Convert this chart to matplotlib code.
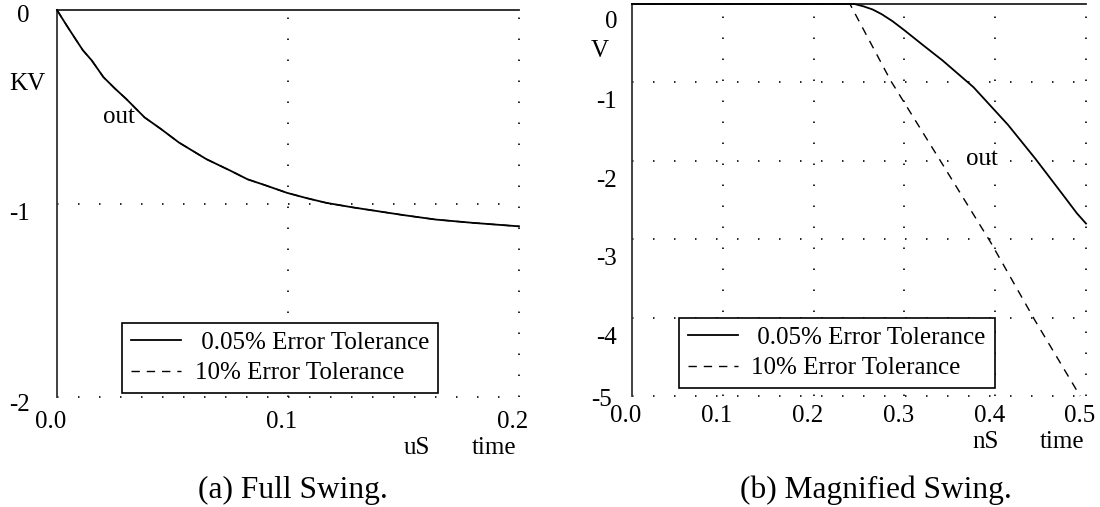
import matplotlib
matplotlib.use('Agg')
import matplotlib.pyplot as plt
import matplotlib.transforms as mtransforms

plt.rcParams['font.family'] = ['Liberation Serif', 'DejaVu Serif']
plt.rcParams['font.size'] = 18

# (a) full swing: time in uS, out in KV
time_a = [0.0, 0.0025, 0.005, 0.008, 0.0112, 0.015, 0.0201, 0.025, 0.03, 0.0379,
          0.045, 0.0528, 0.0647, 0.075, 0.0825, 0.09, 0.0996, 0.108, 0.1167, 0.128,
          0.139, 0.15, 0.164, 0.18, 0.2]
out_a = [0.0, -0.048, -0.095, -0.15, -0.208, -0.26, -0.347, -0.405, -0.46, -0.555,
         -0.615, -0.685, -0.771, -0.83, -0.875, -0.905, -0.945, -0.972, -0.997, -1.02,
         -1.04, -1.06, -1.083, -1.1, -1.118]

# (b) magnified swing: time in nS, out in V
time_b_fine = [0.0, 0.245, 0.255, 0.265, 0.275, 0.287, 0.3, 0.32, 0.342, 0.376,
               0.414, 0.444, 0.475, 0.49, 0.5]
out_b_fine = [0.0, 0.0, -0.03, -0.07, -0.13, -0.22, -0.335, -0.52, -0.72, -1.06,
              -1.54, -1.97, -2.44, -2.67, -2.8]
time_b_coarse = [0.0, 0.24, 0.285, 0.338, 0.395, 0.444, 0.4935]
out_b_coarse = [0.0, 0.0, -0.98, -1.97, -3.04, -4.04, -5.0]

xticks_a = [0.0, 0.1, 0.2]
yticks_a = [0, -1, -2]
xticks_b = [0.0, 0.1, 0.2, 0.3, 0.4, 0.5]
yticks_b = [0, -1, -2, -3, -4, -5]

labels = [' 0.05% Error Tolerance', '10% Error Tolerance']

W, H = 1100, 507
DOTS = (0, (0.9, 11.7))
DASH = (0, (6, 5))


def px(x, y):
    # pixel position (from top-left) -> figure fraction
    return x / W, 1 - y / H


def shift(label, dx, dy):
    # move a text by dx, dy pixels (dy positive = down)
    label.set_transform(label.get_transform() + mtransforms.Affine2D().translate(dx, -dy))


def setup(ax, xticks, yticks, xpad, ypad, ydy, ydx):
    ax.set_xlim(xticks[0], xticks[-1])
    ax.set_ylim(yticks[-1], yticks[0])
    ax.spines['right'].set_visible(False)
    ax.spines['bottom'].set_visible(False)
    ax.spines['left'].set_color('#333333')
    ax.spines['left'].set_linewidth(1.3)
    ax.spines['top'].set_color('#222222')
    ax.spines['top'].set_linewidth(1.3)
    for x in xticks[1:]:
        ax.axvline(x, color='k', lw=1.2, ls=DOTS, clip_on=False, zorder=1)
    for y in yticks[1:]:
        ax.axhline(y, color='k', lw=1.2, ls=DOTS, clip_on=False, zorder=1)
    ax.set_xticks(xticks, [f'{x:.1f}' for x in xticks])
    ax.set_yticks(yticks, [f'{y:d}' for y in yticks])
    ax.tick_params(length=0)
    ax.tick_params(axis='x', pad=xpad)
    ax.tick_params(axis='y', pad=ypad)
    for lab in ax.get_xticklabels():
        lab.set_va('center')
        shift(lab, -6, 0)
    for lab, dy, dx in zip(ax.get_yticklabels(), ydy, ydx):
        lab.set_va('center')
        shift(lab, dx, dy)


def legend(ax, handles, x0, y0):
    leg = ax.legend(handles, labels, loc='lower left', bbox_to_anchor=(x0, y0),
                    borderaxespad=0, frameon=True, fancybox=False, framealpha=1,
                    edgecolor='k', borderpad=0.35, handlelength=2.0,
                    handletextpad=0.55, labelspacing=0.32, fontsize=18)
    leg.get_frame().set_linewidth(1.2)
    leg.set_zorder(5)


fig = plt.figure(figsize=(W / 100, H / 100), dpi=100)

# ---- (a) Full Swing ----
ax1 = fig.add_axes([57 / W, 1 - 397 / H, 462 / W, 387 / H])
setup(ax1, xticks_a, yticks_a, xpad=18, ypad=19.5, ydy=[5.5, 10, 8], ydx=[0, 0, 0])
d1, = ax1.plot(time_a, out_a, color='k', lw=1.0, ls=DASH, clip_on=False, zorder=2)
s1, = ax1.plot(time_a, out_a, color='k', lw=1.3, clip_on=False, zorder=3)
ax1.text(0.0268, -0.555, 'out', ha='center', va='center', fontsize=18)
legend(ax1, [s1, d1], 0.1407, 0.0103)

# ---- (b) Magnified Swing ----
ax2 = fig.add_axes([632 / W, 1 - 396 / H, 454 / W, 392 / H])
setup(ax2, xticks_b, yticks_b, xpad=14.5, ypad=10.8,
      ydy=[18, 20, 20, 20, 20, 4], ydx=[0, 0, 0, 0, 0, -5])
d2, = ax2.plot(time_b_coarse, out_b_coarse, color='k', lw=1.0, ls=DASH,
               clip_on=False, zorder=2)
s2, = ax2.plot(time_b_fine, out_b_fine, color='k', lw=1.3, clip_on=False, zorder=3)
ax2.text(0.385, -1.98, 'out', ha='center', va='center', fontsize=18)
legend(ax2, [s2, d2], 0.1035, 0.0204)

# unit labels and captions
fig.text(*px(27, 84), 'KV', ha='center', va='center', fontsize=18)
fig.text(*px(417, 448), 'uS', ha='center', va='center', fontsize=18)
fig.text(*px(494, 448), 'time', ha='center', va='center', fontsize=18)
fig.text(*px(600, 51), 'V', ha='center', va='center', fontsize=18)
fig.text(*px(986, 442), 'nS', ha='center', va='center', fontsize=18)
fig.text(*px(1062, 442), 'time', ha='center', va='center', fontsize=18)
fig.text(*px(293, 490), '(a) Full Swing.', ha='center', va='center', fontsize=22.6)
fig.text(*px(876, 490), '(b) Magnified Swing.', ha='center', va='center', fontsize=22.6)

fig.savefig('out.png', dpi=100)
